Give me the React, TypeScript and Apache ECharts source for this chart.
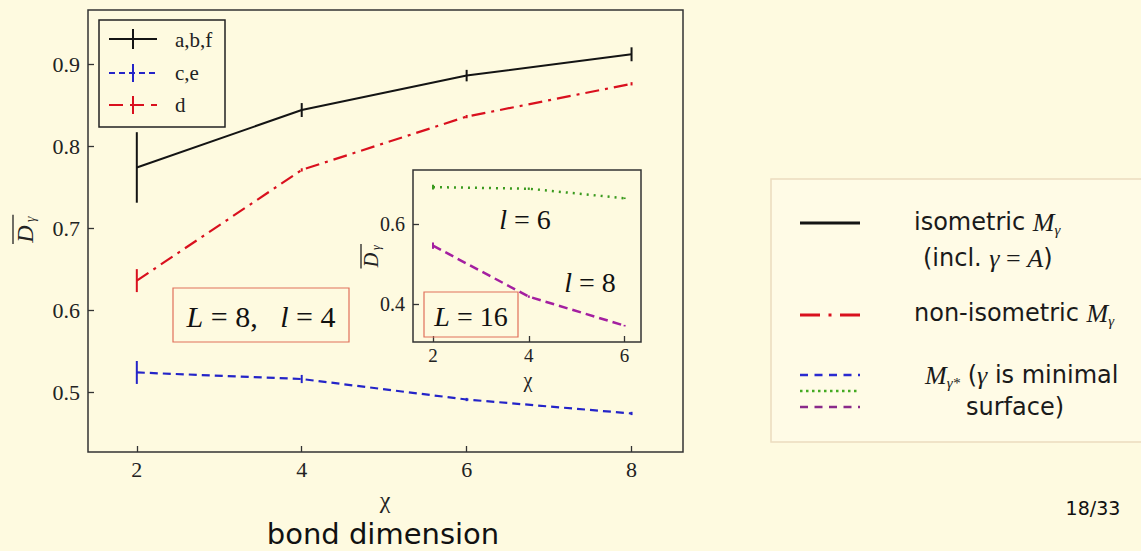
import React, { useEffect, useRef } from "react";
import * as echarts from "echarts";

// Main panel: mean overlap vs bond dimension (L = 8, l = 4)
const chi = [2, 4, 6, 8];
const abfMean = [0.774, 0.844, 0.886, 0.912];
const abfErr = [0.043, 0.0085, 0.007, 0.0085];
const dMean = [0.636, 0.771, 0.836, 0.876];
const dErr = [0.014, 0.002, 0.002, 0.002];
const ceMean = [0.524, 0.516, 0.491, 0.474];
const ceErr = [0.014, 0.005, 0.002, 0.002];
const mainXTicks = [2, 4, 6, 8];
const mainYTicks = [0.5, 0.6, 0.7, 0.8, 0.9];

// Inset panel: L = 16
const insetChi = [2, 4, 6];
const l6Mean = [0.693, 0.689, 0.665];
const l6Err = [0.006, 0.003, 0.002];
const l8Mean = [0.546, 0.418, 0.345];
const l8Err = [0.008, 0.003, 0.002];
const insetXTicks = [2, 4, 6];
const insetYTicks = [0.4, 0.6];

const BG = "#fefae0";
const SERIF = "Liberation Serif";
const SANS = "DejaVu Sans";

const BLACK = "#141414";
const RED = "#d9101e";
const BLUE = "#2424c8";
const GREEN = "#3a9a1e";
const PURPLE = "#a41fa0";

const pairs = (xs: number[], ys: number[]) => xs.map((x, i) => [x, ys[i]]);
const bars = (xs: number[], ys: number[], es: number[]) =>
  xs.map((x, i) => [x, ys[i] - es[i], ys[i] + es[i]]);

const errRender = (color: string, width: number) => (_p: any, api: any) => {
  const lo = api.coord([api.value(0), api.value(1)]);
  const hi = api.coord([api.value(0), api.value(2)]);
  return {
    type: "line",
    shape: { x1: lo[0], y1: lo[1], x2: hi[0], y2: hi[1] },
    style: { stroke: color, lineWidth: width },
  };
};

const lineSeries = (
  name: string,
  data: number[][],
  color: string,
  type: any,
  width: number,
  gi: number
) => ({
  name,
  type: "line",
  xAxisIndex: gi,
  yAxisIndex: gi,
  data,
  symbol: "none",
  lineStyle: { color, width, type },
  z: 3,
  silent: true,
});

const errSeries = (data: number[][], color: string, width: number, gi: number) => ({
  type: "custom",
  coordinateSystem: "cartesian2d",
  xAxisIndex: gi,
  yAxisIndex: gi,
  data,
  encode: { x: 0, y: [1, 2] },
  renderItem: errRender(color, width),
  z: 4,
  silent: true,
});

const tickStyle = { color: "#333", width: 1.3 };

const makeAxis = (
  gi: number,
  min: number,
  max: number,
  ticks: number[],
  fontSize: number,
  margin: number
) => ({
  type: "value",
  gridIndex: gi,
  min,
  max,
  splitLine: { show: false },
  axisLine: { show: false },
  axisTick: { inside: true, length: 6, lineStyle: tickStyle, customValues: ticks },
  axisLabel: {
    customValues: ticks,
    color: "#222",
    fontFamily: SERIF,
    fontSize,
    margin,
  },
});

// plain text element with separate font properties
const txt = (
  text: string,
  x: number,
  y: number,
  size: number,
  family: string,
  opts: any = {}
) => ({
  type: "text",
  z: 10,
  style: {
    text,
    x,
    y,
    fontSize: size,
    fontFamily: family,
    fontStyle: opts.italic ? "italic" : "normal",
    align: opts.align || "center",
    verticalAlign: "middle",
    fill: opts.fill || "#222",
    rich: opts.rich,
  },
});

// Overlined, subscripted D label, rotated to read bottom-to-top
const dLabel = (x: number, y: number, size: number) => ({
  type: "group",
  x,
  y,
  rotation: Math.PI / 2,
  children: [
    txt("D", 0, 0, size, SERIF, { italic: true }),
    txt("γ", size * 0.62, size * 0.24, Math.round(size * 0.6), SERIF, { italic: true }),
    {
      type: "line",
      z: 10,
      shape: { x1: -size * 0.42, y1: -size * 0.5, x2: size * 0.8, y2: -size * 0.5 },
      style: { stroke: "#222", lineWidth: 1.3 },
    },
  ],
});

const hline = (x1: number, x2: number, y: number, color: string, width: number, dash?: number[]) => ({
  type: "line",
  z: 10,
  shape: { x1, y1: y, x2, y2: y },
  style: { stroke: color, lineWidth: width, lineDash: dash },
});

const vline = (x: number, y1: number, y2: number, color: string, width: number) => ({
  type: "line",
  z: 10,
  shape: { x1: x, y1, x2: x, y2 },
  style: { stroke: color, lineWidth: width },
});

const mathRich = (size: number) => ({
  s: { fontFamily: SANS, fontSize: size, fill: "#1a1a1a", lineHeight: 30 },
  m: { fontFamily: SERIF, fontStyle: "italic", fontSize: size + 2, fill: "#1a1a1a", lineHeight: 30 },
  e: { fontFamily: SERIF, fontSize: size + 2, fill: "#1a1a1a", lineHeight: 30 },
  sub: {
    fontFamily: SERIF,
    fontStyle: "italic",
    fontSize: 15,
    fill: "#1a1a1a",
    lineHeight: 16,
    verticalAlign: "bottom",
  },
});

const boxRich = (size: number) => ({
  i: { fontFamily: SERIF, fontStyle: "italic", fontSize: size, fill: "#111" },
  n: { fontFamily: SERIF, fontSize: size, fill: "#111" },
});

const option: any = {
  animation: false,
  backgroundColor: BG,
  grid: [
    {
      left: 88,
      top: 10,
      width: 595,
      height: 442,
      show: true,
      borderColor: "#333",
      borderWidth: 1.5,
      backgroundColor: "transparent",
    },
    {
      left: 413,
      top: 170,
      width: 228,
      height: 172,
      show: true,
      borderColor: "#333",
      borderWidth: 1.5,
      backgroundColor: BG,
      z: 5,
    },
  ],
  xAxis: [
    makeAxis(0, 1.408, 8.624, mainXTicks, 22, 6),
    { ...makeAxis(1, 1.583, 6.342, insetXTicks, 19, 4), z: 6 },
  ],
  yAxis: [
    makeAxis(0, 0.427, 0.966, mainYTicks, 22, 8),
    { ...makeAxis(1, 0.304, 0.736, insetYTicks, 20, 8), z: 6 },
  ],
  series: [
    lineSeries("a,b,f", pairs(chi, abfMean), BLACK, "solid", 2, 0),
    errSeries(bars(chi, abfMean, abfErr), BLACK, 2, 0),
    lineSeries("d", pairs(chi, dMean), RED, [14, 6, 3, 6], 2.2, 0),
    errSeries(bars(chi, dMean, dErr), RED, 2, 0),
    lineSeries("c,e", pairs(chi, ceMean), BLUE, [8, 5], 2.2, 0),
    errSeries(bars(chi, ceMean, ceErr), BLUE, 2, 0),
    { ...lineSeries("l=6", pairs(insetChi, l6Mean), GREEN, [2, 5], 2.5, 1), z: 7 },
    { ...errSeries(bars(insetChi, l6Mean, l6Err), GREEN, 2, 1), z: 8 },
    { ...lineSeries("l=8", pairs(insetChi, l8Mean), PURPLE, [9, 5], 2.5, 1), z: 7 },
    { ...errSeries(bars(insetChi, l8Mean, l8Err), PURPLE, 2, 1), z: 8 },
  ],
  graphic: [
    // axis titles
    dLabel(25, 234, 24),
    dLabel(371, 260, 20),
    txt("χ", 385, 500, 24, SERIF),
    txt("χ", 528, 380, 20, SERIF),
    txt("bond dimension", 383, 534, 29, SANS, { fill: "#111" }),
    txt("18/33", 1093, 508, 19, SANS, { fill: "#111" }),

    // legend inside the main panel
    {
      type: "rect",
      z: 10,
      shape: { x: 99, y: 20, width: 126, height: 107 },
      style: { fill: BG, stroke: "#222", lineWidth: 1.5 },
    },
    hline(109, 157, 39, BLACK, 2),
    vline(133, 29, 49, BLACK, 2),
    hline(109, 157, 73, BLUE, 2, [6, 4]),
    vline(133, 64, 82, BLUE, 2),
    hline(109, 157, 105, RED, 2, [14, 7]),
    vline(133, 96, 114, RED, 2),
    txt("a,b,f", 175, 40, 21, SERIF, { align: "left" }),
    txt("c,e", 175, 73, 21, SERIF, { align: "left" }),
    txt("d", 175, 105, 21, SERIF, { align: "left" }),

    // annotation boxes
    {
      type: "rect",
      z: 10,
      shape: { x: 173, y: 288, width: 176, height: 54 },
      style: { fill: "transparent", stroke: "#e0705a", lineWidth: 1.2 },
    },
    txt("{i|L} {n|= 8,}   {i|l} {n|= 4}", 261, 316, 30, SERIF, { rich: boxRich(30), fill: "#111" }),
    {
      type: "rect",
      z: 10,
      shape: { x: 424, y: 292, width: 94, height: 45 },
      style: { fill: "transparent", stroke: "#e0705a", lineWidth: 1.2 },
    },
    txt("{i|L} {n|= 16}", 471, 316, 28, SERIF, { rich: boxRich(28), fill: "#111" }),
    txt("{i|l} {n|= 6}", 525, 219, 28, SERIF, { rich: boxRich(28), fill: "#111" }),
    txt("{i|l} {n|= 8}", 590, 282, 28, SERIF, { rich: boxRich(28), fill: "#111" }),

    // right-hand legend
    {
      type: "rect",
      z: 9,
      shape: { x: 771, y: 179, width: 400, height: 263 },
      style: { fill: "#fffbe6", stroke: "#ecdcbf", lineWidth: 1.5 },
    },
    hline(800, 860, 223, BLACK, 3),
    hline(800, 860, 315, RED, 3, [20, 8.5, 3, 8.5]),
    hline(800, 860, 375, "#2a2ad0", 2.6, [8, 6.5]),
    hline(800, 860, 391, "#44aa22", 2.6, [2.5, 3.5]),
    hline(800, 860, 407, "#8a2a8a", 2.6, [8, 6.5]),
    txt("{s|isometric }{m|M}{sub|γ}", 914, 222, 24, SANS, { align: "left", rich: mathRich(24) }),
    txt("{s|(incl. }{m|γ}{e| = }{m|A}{s|)}", 923, 258, 24, SANS, { align: "left", rich: mathRich(24) }),
    txt("{s|non-isometric }{m|M}{sub|γ}", 914, 313, 24, SANS, { align: "left", rich: mathRich(24) }),
    txt("{m|M}{sub|γ*}{s| (}{m|γ}{s| is minimal}", 925, 375, 24, SANS, { align: "left", rich: mathRich(24) }),
    txt("surface)", 966, 407, 24, SANS, { align: "left", fill: "#1a1a1a" }),
  ],
};

export default function App() {
  const ref = useRef<HTMLDivElement>(null);
  useEffect(() => {
    document.body.style.margin = "0";
    const chart = echarts.init(ref.current!, null, { renderer: "svg" });
    chart.setOption(option);
    return () => chart.dispose();
  }, []);
  return <div ref={ref} style={{ width: 1141, height: 551, background: BG }} />;
}
